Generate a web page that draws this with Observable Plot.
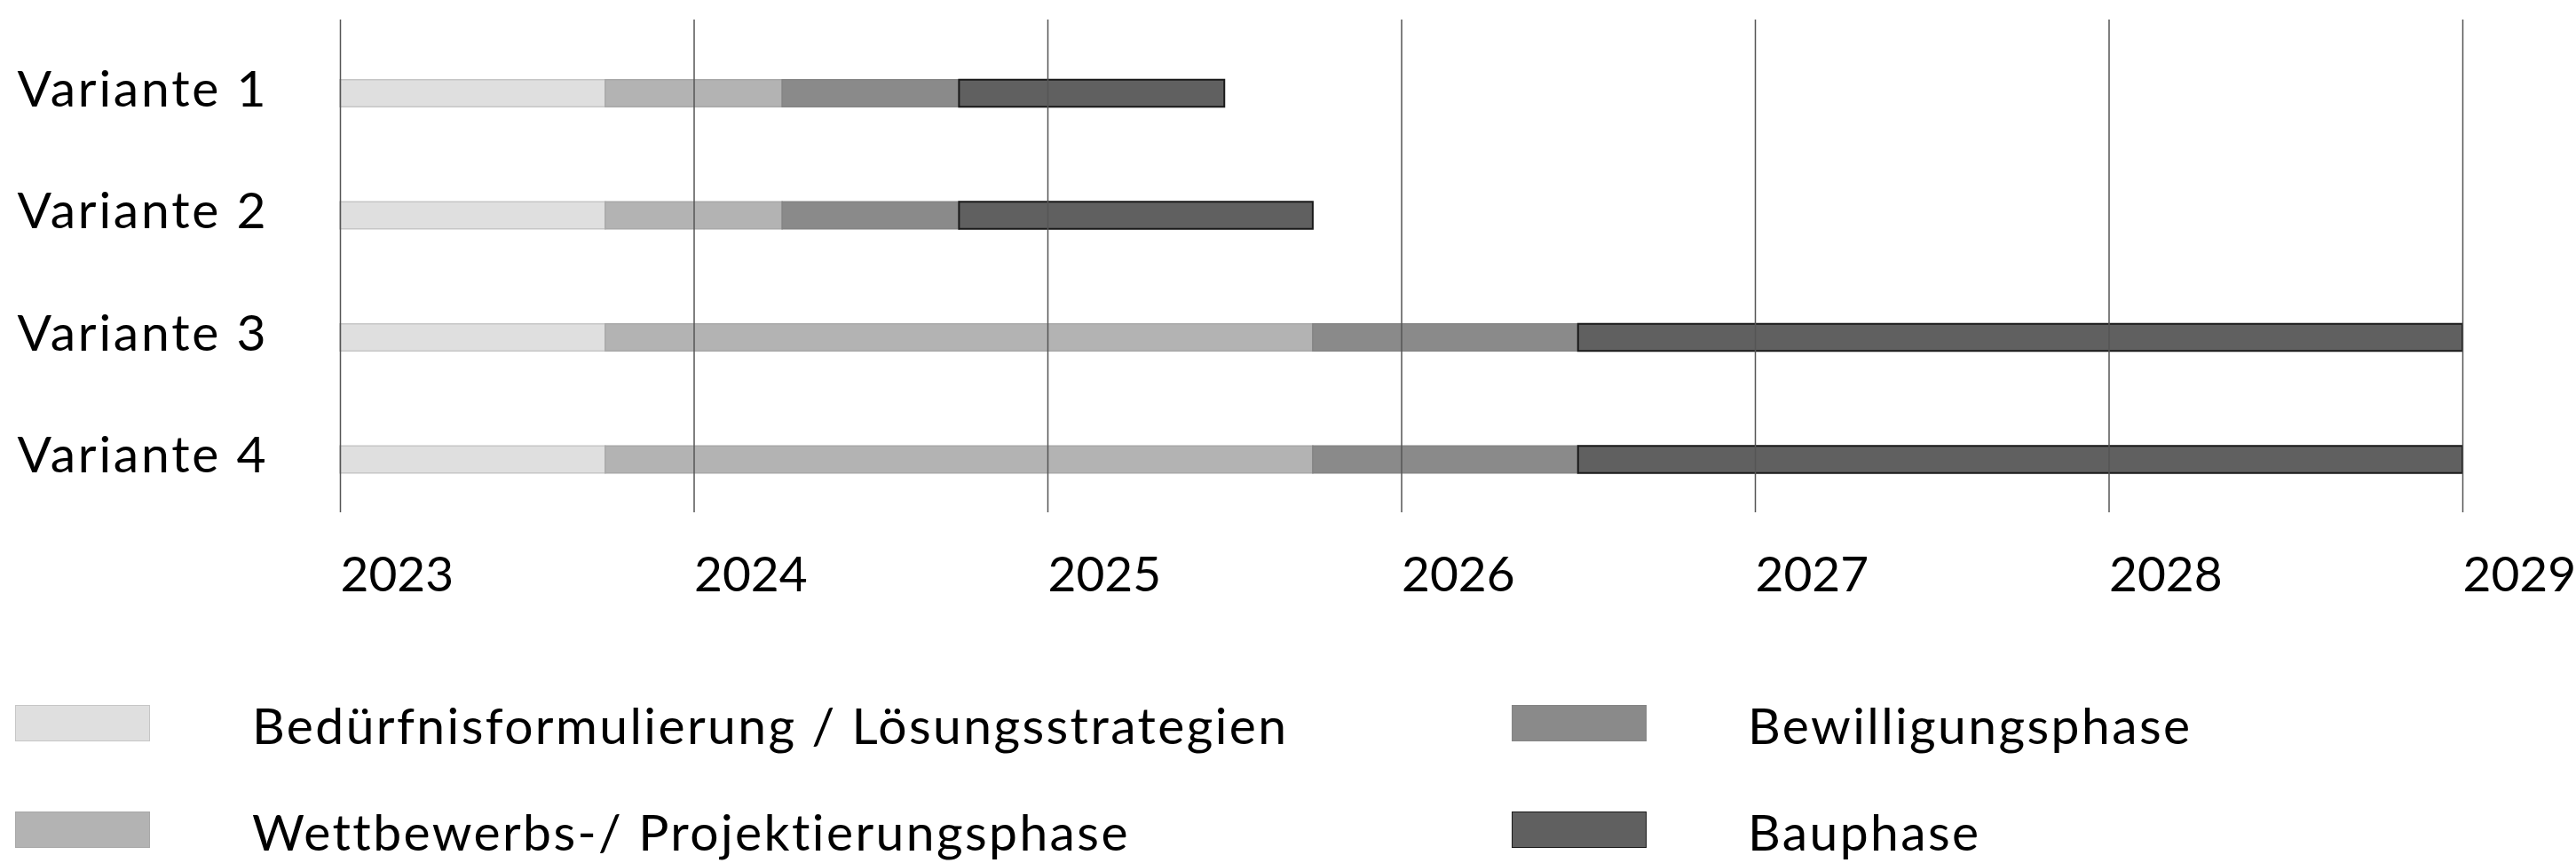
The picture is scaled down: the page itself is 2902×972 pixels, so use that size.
<!DOCTYPE html>
<html><head><meta charset="utf-8">
<script src="https://cdn.jsdelivr.net/npm/d3@7"></script>
<script src="https://cdn.jsdelivr.net/npm/@observablehq/plot@0.6"></script>
<style>
body{margin:0;background:#fff;font-family:Lato, sans-serif;}
#legend{position:relative;width:2902px;height:252px;}
.sw{position:absolute;width:152px;height:41px;box-sizing:border-box;}
.lb{position:absolute;font-size:57px;line-height:57px;color:#000;white-space:nowrap;letter-spacing:2.4px;}
g[aria-label="y-axis tick label"] text{letter-spacing:2.8px;}
</style></head><body>
<div id="chart"></div><div id="legend"></div>
<script>
const variants = ["Variante 1", "Variante 2", "Variante 3", "Variante 4"];
const phases = ["Bedürfnisformulierung / Lösungsstrategien", "Wettbewerbs-/ Projektierungsphase", "Bewilligungsphase", "Bauphase"];
// phase boundaries (start, end of each phase) in years
const variante1 = [2023, 2023.75, 2024.25, 2024.75, 2025.5];
const variante2 = [2023, 2023.75, 2024.25, 2024.75, 2025.75];
const variante3 = [2023, 2023.75, 2025.75, 2026.5, 2029];
const variante4 = [2023, 2023.75, 2025.75, 2026.5, 2029];
const years = [2023, 2024, 2025, 2026, 2027, 2028, 2029];
const fills = ["#dfdfdf", "#b3b3b3", "#8a8a8a", "#606060"];
const strokes = ["#c6c6c6", "#a8a8a8", "#848484", "#1a1a1a"];

const bounds = [variante1, variante2, variante3, variante4];
const rows = [];
variants.forEach((v, i) => {
  phases.forEach((p, j) => {
    rows.push({variant: v, phase: p, x1: bounds[i][j], x2: bounds[i][j + 1]});
  });
});

const barMarks = phases.map((p, j) => Plot.barX(rows.filter(d => d.phase === p), {
  x1: "x1", x2: "x2", y: "variant",
  fill: fills[j], stroke: strokes[j], strokeWidth: j === 3 ? 2 : 1.5
}));

const chart = Plot.plot({
  width: 2902, height: 720,
  marginLeft: 383, marginRight: 128, marginTop: 22, marginBottom: 143,
  style: {fontFamily: "Lato, sans-serif", background: "white", color: "#000"},
  x: {domain: [2023, 2029]},
  y: {type: "band", domain: variants, range: [89.75, 532.75], paddingInner: 0.778, paddingOuter: 0, round: false},
  marks: [
    ...barMarks,
    Plot.gridX(years, {stroke: "#555", strokeOpacity: 1, strokeWidth: 1.5}),
    Plot.axisX({ticks: years, tickSize: 0, tickPadding: 49, textAnchor: "start", fontSize: 55, tickFormat: d => String(d), label: null}),
    Plot.axisY({tickSize: 0, tickPadding: 364, textAnchor: "start", fontSize: 57, label: null, dy: -4})
  ]
});
document.getElementById("chart").appendChild(chart);

const legend = d3.select("#legend");
const legendCols = [17, 1703];
const legendTextX = [284, 1969];
const legendRows = [74, 194];
phases.forEach((p, j) => {
  const col = Math.floor(j / 2), row = j % 2;
  legend.append("div").attr("class", "sw")
    .style("left", legendCols[col] + "px").style("top", legendRows[row] + "px")
    .style("background", fills[j]).style("border", `1.5px solid ${strokes[j]}`);
  legend.append("div").attr("class", "lb")
    .style("left", legendTextX[col] + "px").style("top", (legendRows[row] - 6) + "px")
    .text(p);
});
</script>
</body></html>
